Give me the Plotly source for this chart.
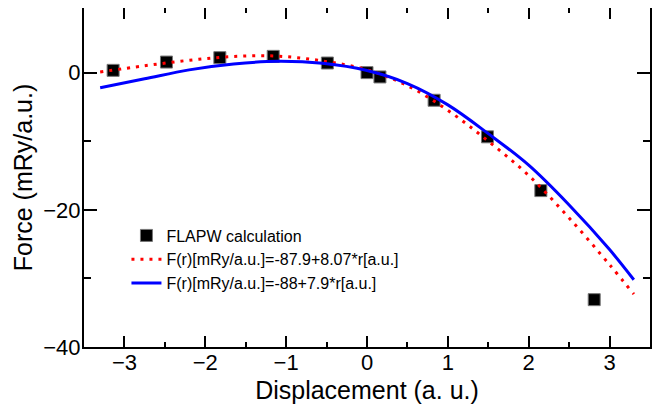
import plotly.graph_objects as go

# FLAPW data points
disp = [-3.14, -2.48, -1.82, -1.16, -0.49, 0.0, 0.16, 0.83, 1.49, 2.15, 2.81]
force = [0.33, 1.54, 2.18, 2.37, 1.40, 0.0, -0.63, -4.03, -9.36, -17.2, -33.1]

# fit curve 1 (red dotted)
fit1_x = [-3.3, -2.75, -2.2, -1.65, -1.1, -0.55, 0.0, 0.5, 1.0, 1.5, 2.0, 2.5, 3.0, 3.3]
fit1_y = [0.1, 1.0, 1.8, 2.35, 2.4, 1.7, 0.4, -1.9, -5.5, -10.0, -15.0, -21.2, -28.0, -32.3]

# fit curve 2 (blue solid)
fit2_x = [-3.3, -2.75, -2.2, -1.65, -1.1, -0.55, 0.0, 0.5, 1.0, 1.5, 2.0, 2.5, 3.0, 3.3]
fit2_y = [-2.2, -0.9, 0.4, 1.25, 1.65, 1.35, 0.3, -1.6, -4.7, -8.9, -13.5, -19.3, -25.8, -30.2]

x_ticks = [-3, -2, -1, 0, 1, 2, 3]
y_ticks = [-40, -20, 0]

names = ["FLAPW calculation",
         "F(r)[mRy/a.u.]=-87.9+8.07*r[a.u.]",
         "F(r)[mRy/a.u.]=-88+7.9*r[a.u.]"]

fig = go.Figure()
fig.add_trace(go.Scatter(x=disp, y=force, mode="markers", name=names[0],
                         marker=dict(symbol="square", size=12, color="black",
                                     line=dict(color="#777777", width=1))))
fig.add_trace(go.Scatter(x=fit1_x, y=fit1_y, mode="lines", name=names[1],
                         line=dict(color="red", width=3, dash="3px,6px", shape="spline")))
fig.add_trace(go.Scatter(x=fit2_x, y=fit2_y, mode="lines", name=names[2],
                         line=dict(color="blue", width=3, shape="spline")))

axis_common = dict(showgrid=False, zeroline=False, showline=True, linecolor="black",
                   linewidth=2, mirror="ticks", ticks="inside", tickcolor="black",
                   tickwidth=2, tickfont=dict(size=22, color="black"), automargin=False)

fig.update_xaxes(range=[-3.5, 3.5], tickmode="array", tickvals=x_ticks,
                 ticklen=11, ticklabelstandoff=-5,
                 minor=dict(dtick=0.5, ticks="inside", ticklen=5, tickcolor="black", tickwidth=2),
                 title=dict(text="Displacement (a. u.)", font=dict(size=25, color="black"), standoff=7),
                 **axis_common)
fig.update_yaxes(range=[-40, 9.42], tickmode="array", tickvals=y_ticks,
                 ticklen=13, ticklabelstandoff=-3,
                 minor=dict(dtick=10, ticks="inside", ticklen=7, tickcolor="black", tickwidth=2),
                 title=dict(text="Force (mRy/a.u.)", font=dict(size=25, color="black"), standoff=4),
                 **axis_common)

fig.update_layout(
    width=660, height=399,
    margin=dict(l=76, r=18, t=0, b=60),
    plot_bgcolor="white", paper_bgcolor="white",
    font=dict(family="Liberation Sans, Arial, sans-serif", color="black"),
    showlegend=True,
    legend=dict(x=0.075, y=0.379, xanchor="left", yanchor="top",
                bgcolor="rgba(0,0,0,0)", font=dict(size=16, color="black"),
                tracegroupgap=0, itemwidth=30),
)

fig.write_html("out.html")
